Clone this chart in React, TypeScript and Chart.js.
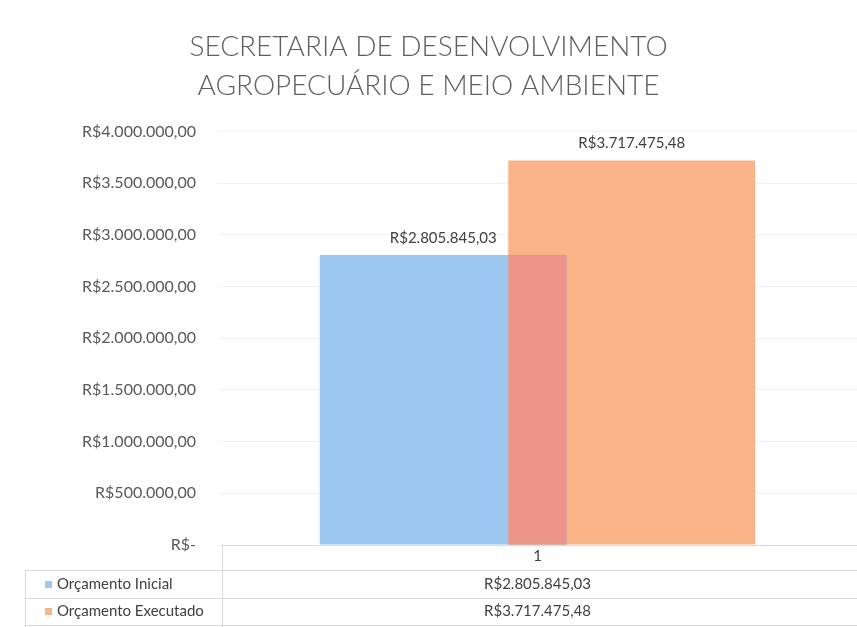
import React, { useEffect, useRef } from "react";
import { Chart, registerables } from "chart.js";

Chart.register(...registerables);

const titleLines = ["SECRETARIA DE DESENVOLVIMENTO", "AGROPECUÁRIO E MEIO AMBIENTE"];
const categories = ["1"];
const seriesNames = ["Orçamento Inicial", "Orçamento Executado"];
const orcamentoInicial = [2805845.03];
const orcamentoExecutado = [3717475.48];
const valueLabels = ["R$2.805.845,03", "R$3.717.475,48"];
const yMax = 4000000;
const yStep = 500000;

const BLUE = "#9CC7EE";
const ORANGE = "#F8B387";
const OVERLAP = "#EE958A";
const TEXT = "#595959";
const FONT = "Lato, 'Open Sans', sans-serif";

function fmtTick(v: number): string {
  if (v === 0) return "R$-";
  const s = Math.round(v).toString().replace(/\B(?=(\d{3})+(?!\d))/g, ".");
  return "R$" + s + ",00";
}

const overlayPlugin = {
  id: "overlayAndTable",
  afterDatasetsDraw(chart: any) {
    const ctx = chart.ctx;
    const a = chart.getDatasetMeta(0).data[0] as any;
    const b = chart.getDatasetMeta(1).data[0] as any;
    if (a && b) {
      const ax1 = a.x - a.width / 2, ax2 = a.x + a.width / 2;
      const bx1 = b.x - b.width / 2, bx2 = b.x + b.width / 2;
      const x1 = Math.max(ax1, bx1), x2 = Math.min(ax2, bx2);
      const top = Math.max(a.y, b.y);
      const base = Math.min(a.base, b.base);
      if (x2 > x1) {
        ctx.save();
        ctx.fillStyle = OVERLAP;
        ctx.fillRect(x1, top, x2 - x1, base - top);
        ctx.restore();
      }
    }
    ctx.save();
    ctx.font = "15px " + FONT;
    ctx.fillStyle = "#404040";
    ctx.textAlign = "center";
    ctx.textBaseline = "middle";
    [a, b].forEach((el: any, i: number) => {
      if (el) ctx.fillText(valueLabels[i], el.x, el.y - 17);
    });
    ctx.restore();
  },
  afterDraw(chart: any) {
    const ctx = chart.ctx;
    const ca = chart.chartArea;
    const H = chart.height;
    ctx.save();
    ctx.strokeStyle = "#D9D9D9";
    ctx.lineWidth = 1;
    const tableLeft = 25;
    const rowLines = [ca.bottom + 25, ca.bottom + 53, ca.bottom + 80];
    ctx.beginPath();
    ctx.moveTo(ca.left + 4, ca.bottom + 0.5);
    ctx.lineTo(ca.right, ca.bottom + 0.5);
    ctx.moveTo(ca.left + 4.5, ca.bottom);
    ctx.lineTo(ca.left + 4.5, H);
    for (const y of rowLines) {
      ctx.moveTo(tableLeft, y + 0.5);
      ctx.lineTo(ca.right, y + 0.5);
    }
    ctx.moveTo(tableLeft + 0.5, rowLines[0]);
    ctx.lineTo(tableLeft + 0.5, H);
    ctx.stroke();

    const cx = (ca.left + ca.right) / 2;
    ctx.font = "15px " + FONT;
    ctx.fillStyle = "#404040";
    ctx.textBaseline = "middle";
    ctx.textAlign = "center";
    ctx.fillText(categories[0], cx, ca.bottom + 11);
    const rowCenters = [ca.bottom + 39, ca.bottom + 66];
    const colors = [BLUE, ORANGE];
    for (let i = 0; i < 2; i++) {
      ctx.textAlign = "center";
      ctx.fillStyle = "#404040";
      ctx.fillText(valueLabels[i], cx, rowCenters[i]);
      ctx.fillStyle = colors[i];
      ctx.fillRect(45, rowCenters[i] - 3, 7, 7);
      ctx.fillStyle = "#404040";
      ctx.textAlign = "left";
      ctx.fillText(seriesNames[i], 57, rowCenters[i]);
    }
    ctx.restore();
  },
};

export default function App() {
  const ref = useRef<HTMLCanvasElement | null>(null);
  useEffect(() => {
    if (!ref.current) return;
    const chart = new Chart(ref.current, {
      type: "bar",
      data: {
        labels: categories,
        datasets: [
          { label: seriesNames[0], data: orcamentoInicial, backgroundColor: BLUE, categoryPercentage: 0.59, barPercentage: 1.31 },
          { label: seriesNames[1], data: orcamentoExecutado, backgroundColor: ORANGE, categoryPercentage: 0.59, barPercentage: 1.31 },
        ],
      },
      options: {
        animation: false,
        responsive: false,
        maintainAspectRatio: false,
        layout: { padding: { left: 0, right: 0, top: 0, bottom: 82 } },
        plugins: {
          legend: { display: false },
          tooltip: { enabled: false },
          title: {
            display: true,
            text: titleLines,
            color: "#5F5F5F",
            font: { family: FONT, size: 28, weight: "300", lineHeight: 1.4 },
            padding: { top: 27, bottom: 26 },
          },
        },
        scales: {
          x: { display: false },
          y: {
            min: 0,
            max: yMax,
            ticks: {
              stepSize: yStep,
              color: TEXT,
              padding: 22,
              font: { family: FONT, size: 16 },
              callback: (v: any) => fmtTick(Number(v)),
            },
            grid: { color: "#F0F0F0", drawTicks: false },
            border: { display: false },
            afterFit: (s: any) => {
              s.width = 218;
            },
          },
        },
      },
      plugins: [overlayPlugin],
    });
    return () => chart.destroy();
  }, []);
  return (
    <div style={{ position: "absolute", left: 0, top: 0, width: 857, height: 627, background: "#fff" }}>
      <canvas ref={ref} width={857} height={627} style={{ width: 857, height: 627 }} />
    </div>
  );
}
